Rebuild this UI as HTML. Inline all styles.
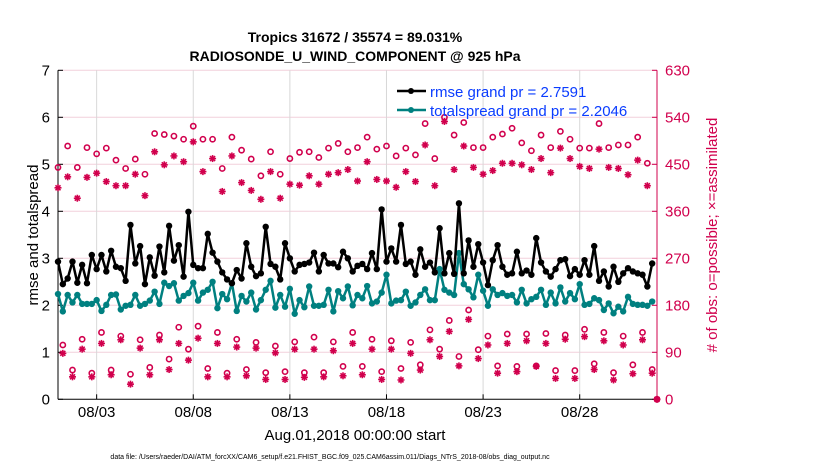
<!DOCTYPE html>
<html><head><meta charset="utf-8"><style>
body{margin:0;background:#fff;}
svg{display:block;font-family:"Liberation Sans",sans-serif;}
</style></head><body>
<svg id="chart" width="830" height="470" viewBox="0 0 830 470">
<text x="355" y="42" text-anchor="middle" font-size="14" font-weight="bold">Tropics 31672 / 35574 = 89.031%</text>
<text x="355" y="61" text-anchor="middle" font-size="14" font-weight="bold">RADIOSONDE_U_WIND_COMPONENT @ 925 hPa</text>
<g id="grid"></g>
<g id="axes"></g>
<g id="marks"></g>
<text transform="translate(38,235) rotate(-90)" text-anchor="middle" font-size="15">rmse and totalspread</text>
<text transform="translate(717,235) rotate(-90)" text-anchor="middle" font-size="15" fill="#d1004d"># of obs: o=possible; ×=assimilated</text>
<text x="355" y="440" text-anchor="middle" font-size="15">Aug.01,2018 00:00:00 start</text>
<text x="330" y="459" text-anchor="middle" font-size="7">data file: /Users/raeder/DAI/ATM_forcXX/CAM6_setup/f.e21.FHIST_BGC.f09_025.CAM6assim.011/Diags_NTrS_2018-08/obs_diag_output.nc</text>
<g>
<g>
<line x1="397" y1="91" x2="426" y2="91" stroke="#000" stroke-width="2.5"/><circle cx="411" cy="91" r="3" fill="#000"/>
<text x="430" y="97" font-size="15" fill="#0a3cff">rmse grand pr = 2.7591</text></g>
<g>
<line x1="397" y1="110" x2="426" y2="110" stroke="#008080" stroke-width="2.5"/><circle cx="411" cy="110" r="3" fill="#008080"/>
<text x="430" y="116" font-size="15" fill="#0a3cff">totalspread grand pr = 2.2046</text></g>
</g>
</svg>
<script>
const rmse=[2.93,2.45,2.57,2.93,2.48,2.86,2.47,3.07,2.77,3.07,2.72,3.16,2.82,2.79,2.52,3.71,2.89,3.26,2.45,3.02,2.63,3.25,2.70,3.69,2.95,3.28,2.61,3.99,2.86,2.79,
2.79,3.52,3.12,2.93,2.70,2.55,2.47,2.75,2.57,3.32,2.82,2.62,2.68,3.67,2.88,2.82,2.55,3.32,3.00,2.72,2.86,2.88,2.91,3.12,2.72,3.07,2.89,2.89,2.81,3.14,3.00,2.72,
2.84,2.88,2.77,3.11,2.77,4.04,2.93,3.21,2.93,3.71,2.88,2.93,2.65,3.19,2.82,2.91,2.70,3.64,2.68,3.11,2.67,4.17,2.68,3.38,2.82,3.30,2.91,2.43,2.96,3.28,2.82,
2.65,2.68,3.14,2.68,2.74,2.65,3.43,2.91,2.72,2.61,2.77,2.96,2.98,2.62,2.77,2.65,2.96,2.65,3.26,2.52,2.72,2.40,2.82,2.50,2.68,2.79,2.72,2.68,2.65,2.40,2.89];
const spread=[2.24,1.87,2.22,2.06,2.22,2.03,2.03,2.03,2.11,1.88,2.01,2.22,2.23,1.91,1.99,2.01,2.22,1.99,2.03,2.10,2.29,2.03,2.48,2.41,2.47,2.10,2.20,2.26,2.48,2.10,
2.27,2.33,2.50,1.94,2.24,2.13,2.47,1.88,2.20,2.08,2.27,1.91,2.11,2.33,2.52,1.95,2.22,1.97,2.35,1.82,2.11,1.96,2.40,1.99,1.99,2.01,2.33,1.87,2.30,2.15,2.40,2.00,
2.22,2.15,2.41,2.04,2.08,2.27,2.65,2.04,2.10,2.11,2.29,1.99,2.06,2.22,2.34,2.11,2.11,2.77,2.33,2.27,2.22,3.11,2.45,2.34,2.17,2.65,2.31,1.99,2.34,2.22,2.26,
2.20,2.22,2.06,2.33,2.04,2.13,2.18,2.33,2.01,2.27,2.04,2.38,2.08,2.26,2.13,2.45,2.01,2.03,2.15,2.11,1.90,2.04,1.83,1.97,1.87,2.18,2.03,2.01,2.01,1.99,2.08];
// obs counts at 00Z/12Z (even steps) and 06Z/18Z (odd steps)
const possibleMain=[444,485,444,482,470,481,458,442,460,431,509,507,504,498,523,498,498,442,502,477,460,428,474,431,461,473,474,463,481,490,474,482,502,479,485,466,481,468,528,461,540,506,530,482,482,502,508,519,491,476,506,482,513,498,481,481,528,482,487,487,502,452,0];
const assimMain=[405,426,385,425,433,417,409,409,431,390,474,449,466,455,493,436,461,398,466,415,400,383,436,385,412,410,428,412,431,434,440,418,455,421,418,406,436,417,487,409,532,440,485,444,431,438,452,452,449,440,461,434,481,461,446,442,479,444,442,430,458,409,0];
const possibleOff=[104,56,115,50,128,56,121,48,114,61,123,77,138,96,140,59,128,50,115,57,109,51,102,53,110,51,119,51,110,63,128,63,115,53,112,59,109,66,133,96,151,82,171,95,121,64,125,63,125,64,126,55,123,55,134,68,128,51,121,66,128,57];
const assimOff=[88,43,96,43,107,47,114,29,98,47,114,57,107,75,117,43,107,43,100,45,98,38,89,38,96,42,96,43,93,45,107,47,96,38,96,37,88,56,114,82,130,64,153,78,104,50,107,53,112,63,107,40,115,40,120,57,112,37,104,49,114,50];
const xTickLabels=["08/03","08/08","08/13","08/18","08/23","08/28"];
const xTickDays=[2,7,12,17,22,27];
const yTicksLeft=[0,1,2,3,4,5,6,7];
const yTicksRight=[0,90,180,270,360,450,540,630];

const NS="http://www.w3.org/2000/svg";
const X0=58,X1=657,Y0=399.3,YT=70.3;
const xs=i=>X0+i*(X1-X0)/124;       // i = 6-hour step index
const ys=v=>Y0-(v/7)*(Y0-YT);
const yr=c=>Y0-(c/630)*(Y0-YT);
function mk(tag,attrs,parent){const e=document.createElementNS(NS,tag);for(const k in attrs)e.setAttribute(k,attrs[k]);parent.appendChild(e);return e;}
const grid=document.getElementById('grid'),axes=document.getElementById('axes'),marks=document.getElementById('marks');
const RED="#d1004d";
yTicksLeft.forEach((t,k)=>{
  const y=ys(t);
  if(t>0){const g=mk('line',{x1:X0,x2:X1,y1:y,y2:y,stroke:'#f2d0dc','stroke-width':1},grid);
  
  }
  const tl=mk('text',{x:X0-8,y:y+5,'text-anchor':'end','font-size':15},axes);tl.textContent=t;
  
  
  mk('line',{x1:X0,x2:X0+5,y1:y,y2:y,stroke:'#000'},axes);
  mk('line',{x1:X1,x2:X1-5,y1:y,y2:y,stroke:RED},axes);
  const tr=mk('text',{x:X1+8,y:y+5,'font-size':15,fill:RED},axes);tr.textContent=yTicksRight[k];
  
  
});
xTickDays.forEach((d,k)=>{
  const x=xs(d*4);
  const g=mk('line',{x1:x,x2:x,y1:YT,y2:Y0,stroke:'#d8d8d8','stroke-width':1},grid);
  
  
  mk('line',{x1:x,x2:x,y1:Y0,y2:Y0-5,stroke:'#000'},axes);
  const t=mk('text',{x:x,y:417,'text-anchor':'middle','font-size':15},axes);t.textContent=xTickLabels[k];
  
  
});
mk('line',{x1:X0,x2:X0,y1:YT,y2:Y0,stroke:'#000'},axes);
mk('line',{x1:X0,x2:X1,y1:Y0,y2:Y0,stroke:'#000'},axes);
mk('line',{x1:X1,x2:X1,y1:YT,y2:Y0,stroke:RED},axes);

function circ(x,y){const c=mk('circle',{cx:x,cy:y,r:2.6,fill:'none',stroke:RED,'stroke-width':1.6},marks);
  
  }
function star(x,y){const g=mk('g',{stroke:RED,'stroke-width':1.6},marks);
  
  
  mk('line',{x1:x-3.5,x2:x+3.5,y1:y,y2:y},g);mk('line',{x1:x,x2:x,y1:y-3.5,y2:y+3.5},g);
  mk('line',{x1:x-2.5,x2:x+2.5,y1:y-2.5,y2:y+2.5},g);mk('line',{x1:x-2.5,x2:x+2.5,y1:y+2.5,y2:y-2.5},g);}
possibleMain.forEach((v,k)=>circ(xs(2*k),yr(v)));
assimMain.forEach((v,k)=>star(xs(2*k),yr(v)));
possibleOff.forEach((v,k)=>circ(xs(2*k+1),yr(v)));
assimOff.forEach((v,k)=>star(xs(2*k+1),yr(v)));

function series(arr,color,name){
  const p=mk('polyline',{points:arr.map((v,i)=>xs(i)+','+ys(v)).join(' '),fill:'none',stroke:color,'stroke-width':2.5,'stroke-linejoin':'round'},marks);
  
  
  arr.forEach((v,i)=>{const c=mk('circle',{cx:xs(i),cy:ys(v),r:3.2,fill:color},marks);
    
    });
}
series(spread,'#008080','totalspread');
series(rmse,'#000','rmse');
</script>
</body></html>
